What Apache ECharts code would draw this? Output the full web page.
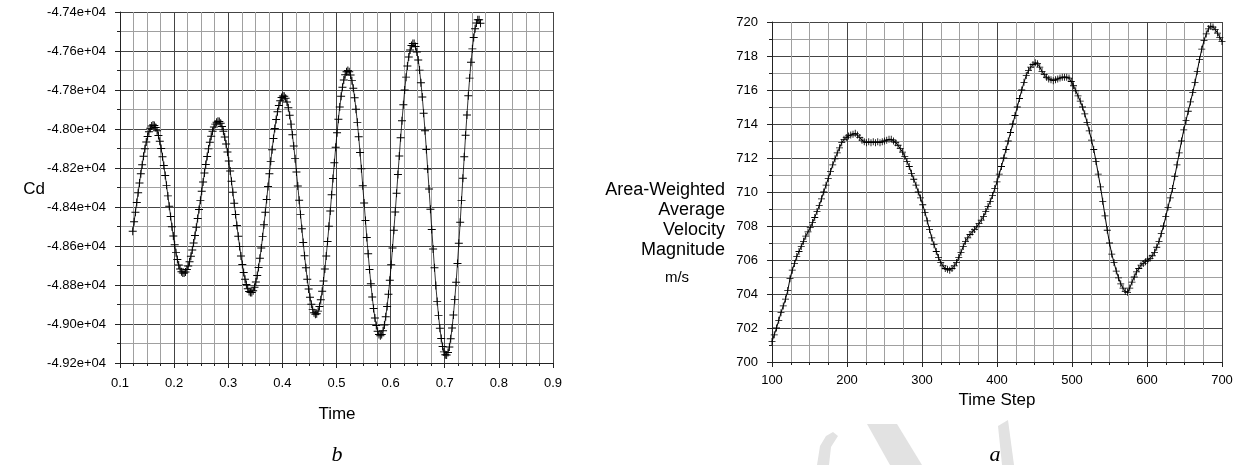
<!DOCTYPE html>
<html>
<head>
<meta charset="utf-8">
<script src="https://cdn.jsdelivr.net/npm/echarts@6/dist/echarts.min.js"></script>
<style>
  html, body { margin: 0; padding: 0; background: #fff; }
  #chart { width: 1237px; height: 465px; }
</style>
</head>
<body>
<div id="chart"></div>
<script>
// Panel b: drag coefficient Cd sampled at a fixed time step
const cdTimeStart = 0.1235;
const cdTimeStep = 0.0025;
const cdValues = [
  -48524, -48476, -48427, -48377, -48327, -48277, -48229, -48183,
  -48140, -48101, -48067, -48038, -48014, -47996, -47985, -47980,
  -47982, -47992, -48009, -48033, -48063, -48100, -48142, -48187,
  -48238, -48289, -48343, -48396, -48449, -48501, -48549, -48594,
  -48634, -48669, -48697, -48718, -48732, -48739, -48739, -48733,
  -48721, -48703, -48681, -48653, -48621, -48585, -48546, -48504,
  -48459, -48413, -48366, -48319, -48272, -48226, -48182, -48141,
  -48102, -48068, -48037, -48012, -47990, -47975, -47965, -47960,
  -47962, -47971, -47987, -48011, -48041, -48077, -48118, -48164,
  -48215, -48268, -48324, -48381, -48438, -48495, -48550, -48602,
  -48651, -48695, -48736, -48770, -48797, -48819, -48833, -48839,
  -48838, -48829, -48811, -48785, -48751, -48710, -48663, -48610,
  -48552, -48491, -48427, -48361, -48295, -48230, -48166, -48106,
  -48049, -47997, -47951, -47912, -47879, -47855, -47838, -47831,
  -47832, -47842, -47862, -47891, -47930, -47975, -48029, -48087,
  -48152, -48221, -48292, -48365, -48439, -48511, -48582, -48650,
  -48712, -48770, -48820, -48863, -48899, -48925, -48942, -48950,
  -48947, -48934, -48910, -48876, -48832, -48779, -48718, -48651,
  -48577, -48499, -48420, -48337, -48254, -48173, -48094, -48019,
  -47950, -47887, -47832, -47786, -47749, -47722, -47706, -47700,
  -47706, -47723, -47752, -47791, -47840, -47899, -47966, -48040,
  -48120, -48204, -48291, -48380, -48469, -48556, -48640, -48720,
  -48794, -48861, -48920, -48969, -49008, -49037, -49054, -49060,
  -49054, -49035, -49005, -48963, -48910, -48847, -48776, -48696,
  -48610, -48519, -48426, -48330, -48233, -48138, -48045, -47958,
  -47876, -47800, -47734, -47677, -47631, -47595, -47572, -47561,
  -47562, -47577, -47605, -47646, -47698, -47763, -47836, -47919,
  -48009, -48105, -48205, -48308, -48412, -48515, -48615, -48711,
  -48802, -48884, -48957, -49022, -49074, -49115, -49143, -49158,
  -49159, -49146, -49118, -49076, -49021, -48954, -48875, -48786,
  -48690, -48586, -48478, -48366, -48253, -48142, -48032, -47928,
  -47829, -47739, -47658, -47589, -47531, -47486, -47456, -47440,
  -47440, -47458
];

// Panel a: area-weighted average velocity magnitude (m/s), every third time step
const velStepStart = 100;
const velStepEvery = 3;
const velValues = [
  701.2, 701.6, 702.0, 702.45, 702.9, 703.3, 703.7, 704.2, 704.9, 705.4,
  705.8, 706.2, 706.5, 706.8, 707.1, 707.4, 707.65, 707.9, 708.2, 708.5,
  708.85, 709.2, 709.6, 710.0, 710.4, 710.8, 711.2, 711.6, 711.95, 712.3,
  712.6, 712.9, 713.1, 713.2, 713.3, 713.35, 713.4, 713.45, 713.35, 713.2,
  713.05, 712.95, 712.9, 712.95, 712.9, 712.95, 712.9, 712.95, 712.9, 712.95,
  713.0, 713.05, 713.1, 713.1, 713.0, 712.9, 712.75, 712.55, 712.35, 712.1,
  711.8, 711.5, 711.1, 710.75, 710.4, 710.0, 709.65, 709.25, 708.8, 708.3,
  707.8, 707.3, 706.9, 706.5, 706.15, 705.85, 705.65, 705.5, 705.45, 705.4,
  705.5, 705.65, 705.85, 706.15, 706.45, 706.8, 707.1, 707.3, 707.5, 707.65,
  707.8, 707.95, 708.15, 708.35, 708.55, 708.85, 709.15, 709.45, 709.8, 710.2,
  710.6, 711.05, 711.5, 712.0, 712.5, 713.0, 713.5, 714.0, 714.5, 715.0,
  715.5, 716.0, 716.45, 716.85, 717.15, 717.35, 717.5, 717.6, 717.55, 717.35,
  717.1, 716.9, 716.75, 716.65, 716.6, 716.55, 716.6, 716.65, 716.7, 716.75,
  716.75, 716.75, 716.7, 716.5, 716.25, 715.95, 715.65, 715.35, 715.0, 714.6,
  714.1, 713.6, 713.05, 712.5, 711.8, 711.05, 710.3, 709.45, 708.6, 707.75,
  707.0, 706.35, 705.85, 705.35, 704.95, 704.6, 704.35, 704.15, 704.1, 704.35,
  704.7, 705.0, 705.3, 705.5, 705.7, 705.8, 705.9, 706.0, 706.1, 706.25,
  706.45, 706.75, 707.1, 707.55, 708.0, 708.55, 709.1, 709.65, 710.2, 710.9,
  711.6, 712.3, 713.0, 713.65, 714.2, 714.75, 715.3, 715.85, 716.45, 717.1,
  717.8, 718.4, 718.9, 719.3, 719.6, 719.75, 719.7, 719.55, 719.35, 719.1,
  718.85
];

// Axis ranges and tick spacing: min, max, interval
const cdTimeTicks = [0.1, 0.9, 0.1];
const cdValueTicks = [-49200, -47400, 200];
const velStepTicks = [100, 700, 100];
const velValueTicks = [700, 720, 2];

const cdData = cdValues.map((v, i) => [cdTimeStart + i * cdTimeStep, v]);
const velData = velValues.map((v, i) => [velStepStart + i * velStepEvery, v]);

const FONT = '"Liberation Sans", Arial, sans-serif';
const PLUS = 'path://M4.4,0H5.6V4.4H10V5.6H5.6V10H4.4V5.6H0V4.4H4.4Z';

function valueAxis(ticks, gridIndex, minorSplit, formatter, margin) {
  return {
    type: 'value',
    gridIndex: gridIndex,
    min: ticks[0], max: ticks[1], interval: ticks[2],
    axisLine: { show: true, onZero: false, lineStyle: { color: '#222', width: 1 } },
    axisTick: { show: true, inside: false, length: 5, lineStyle: { color: '#222' } },
    minorTick: { show: true, splitNumber: minorSplit, length: 3, lineStyle: { color: '#222' } },
    splitLine: { show: true, lineStyle: { color: '#444', width: 1 } },
    minorSplitLine: { show: true, lineStyle: { color: '#a0a0a0', width: 1 } },
    axisLabel: { color: '#000', fontFamily: FONT, fontSize: 13, margin: margin, formatter: formatter }
  };
}

const chart = echarts.init(document.getElementById('chart'), null, { renderer: 'canvas' });

chart.setOption({
  animation: false,
  backgroundColor: '#fff',
  grid: [
    { left: 120, top: 12, width: 433, height: 351 },
    { left: 772, top: 22, width: 450, height: 340 }
  ],
  xAxis: [
    valueAxis(cdTimeTicks, 0, 4, v => v.toFixed(1), 14),
    valueAxis(velStepTicks, 1, 4, v => String(v), 12)
  ],
  yAxis: [
    valueAxis(cdValueTicks, 0, 2, v => (v / 10000).toFixed(2) + 'e+04', 14),
    valueAxis(velValueTicks, 1, 2, v => String(v), 14)
  ],
  series: [
    {
      type: 'line', xAxisIndex: 0, yAxisIndex: 0,
      data: cdData,
      symbol: PLUS, symbolSize: 8, showAllSymbol: true,
      itemStyle: { color: '#000' },
      lineStyle: { color: '#000', width: 0.8 },
      silent: true
    },
    {
      type: 'line', xAxisIndex: 1, yAxisIndex: 1,
      data: velData,
      symbol: PLUS, symbolSize: 7, showAllSymbol: true,
      itemStyle: { color: '#000' },
      lineStyle: { color: '#000', width: 1 },
      silent: true
    }
  ],
  graphic: [
    // faint background marks in the lower right
    { type: 'polygon', silent: true, z: -1,
      shape: { points: [[817, 465], [820, 446], [826, 436], [833, 432], [838, 436], [831, 447], [829, 465]] },
      style: { fill: '#e2e2e2' } },
    { type: 'polygon', silent: true, z: -1,
      shape: { points: [[867, 424], [897, 424], [922, 465], [890, 465]] },
      style: { fill: '#e2e2e2' } },
    { type: 'polygon', silent: true, z: -1,
      shape: { points: [[998, 426], [1008, 420], [1014, 465], [1002, 465]] },
      style: { fill: '#e2e2e2' } },
    // axis titles
    { type: 'text', x: 34, y: 189,
      style: { text: 'Cd', font: '17px ' + FONT, fill: '#000', textAlign: 'center', textVerticalAlign: 'middle' } },
    { type: 'text', x: 337, y: 414,
      style: { text: 'Time', font: '17px ' + FONT, fill: '#000', textAlign: 'center', textVerticalAlign: 'middle' } },
    { type: 'text', x: 997, y: 400,
      style: { text: 'Time Step', font: '17px ' + FONT, fill: '#000', textAlign: 'center', textVerticalAlign: 'middle' } },
    { type: 'text', x: 725, y: 180,
      style: { text: 'Area-Weighted\nAverage\nVelocity\nMagnitude', font: '18px ' + FONT, lineHeight: 20,
               fill: '#000', textAlign: 'right', textVerticalAlign: 'top' } },
    { type: 'text', x: 677, y: 278,
      style: { text: 'm/s', font: '15px ' + FONT, fill: '#000', textAlign: 'center', textVerticalAlign: 'middle' } },
    // panel letters
    { type: 'text', x: 337, y: 455,
      style: { text: 'b', font: 'italic 22px "Liberation Serif", "Times New Roman", serif', fill: '#000', textAlign: 'center', textVerticalAlign: 'middle' } },
    { type: 'text', x: 995, y: 455,
      style: { text: 'a', font: 'italic 22px "Liberation Serif", "Times New Roman", serif', fill: '#000', textAlign: 'center', textVerticalAlign: 'middle' } }
  ]
});
</script>
</body>
</html>
